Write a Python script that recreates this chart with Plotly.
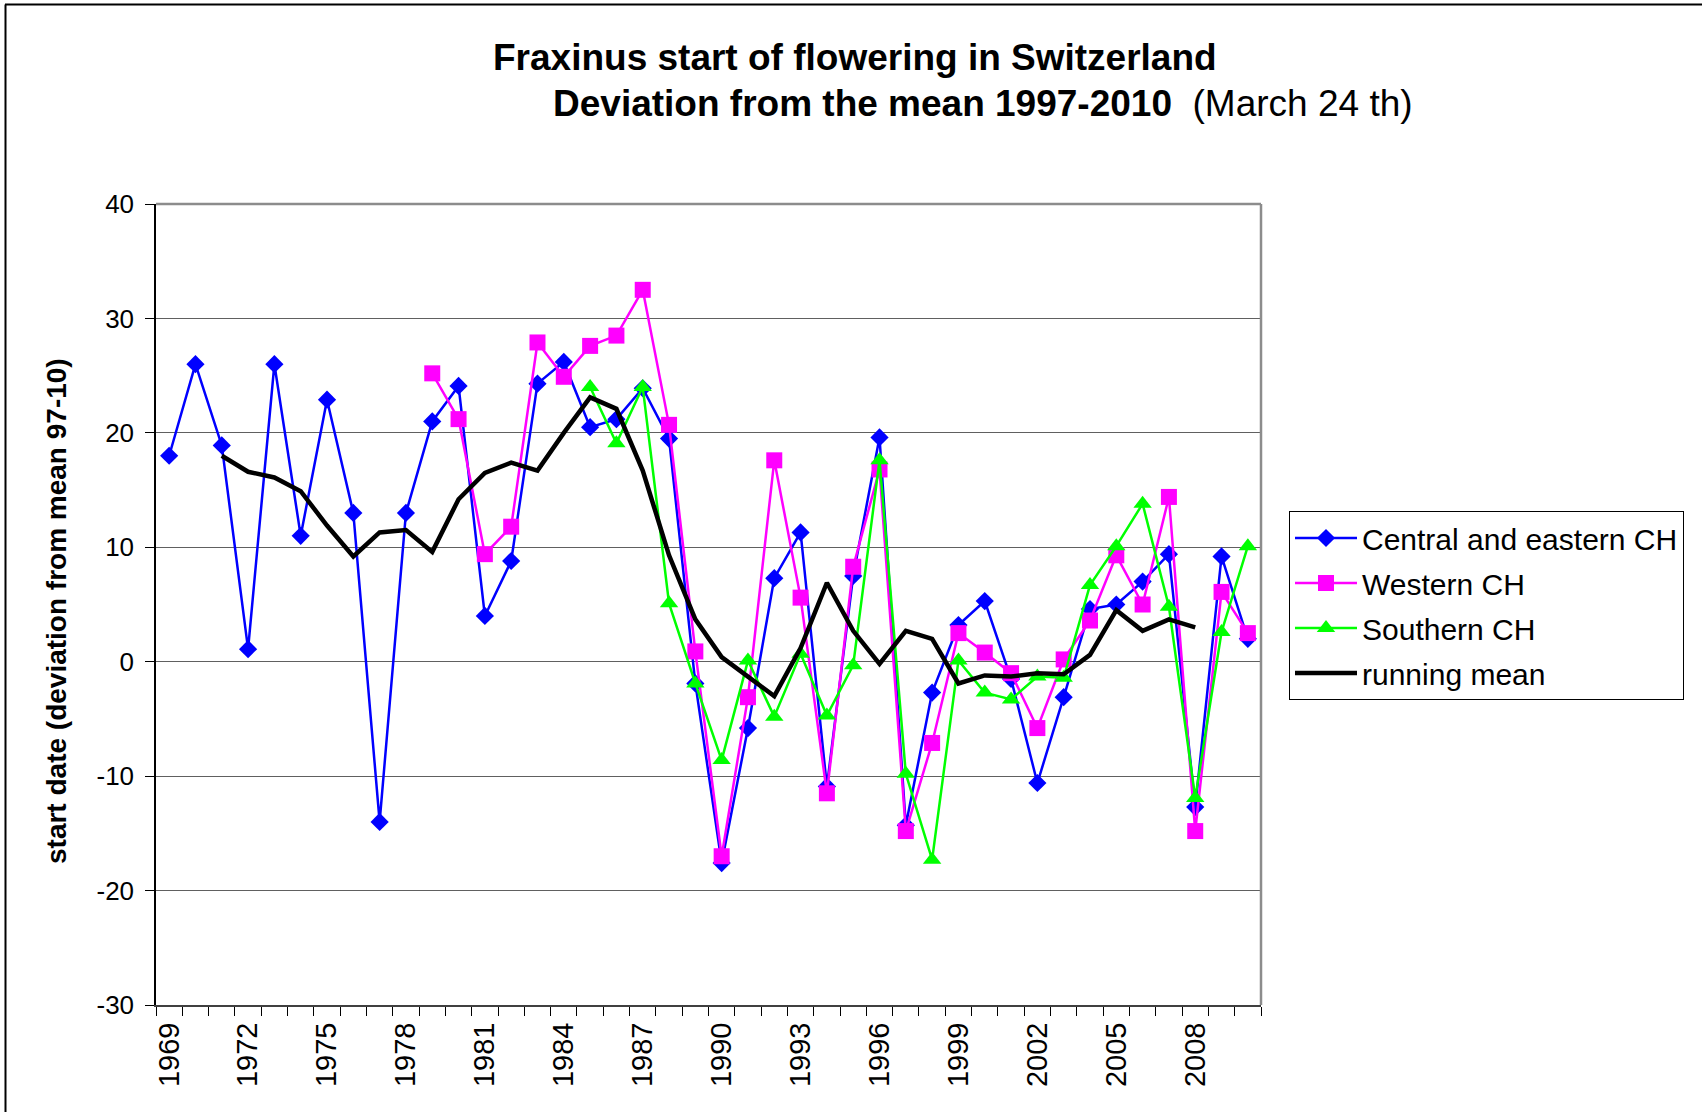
import plotly.graph_objects as go

# start of flowering, deviation from mean 1997-2010 (days)
years_central = list(range(1969, 2011))
central_east = [18, 26, 18.9, 1.1, 26, 11, 22.9, 13, -14, 13,
                21, 24.1, 4, 8.8, 24.3, 26.2, 20.5, 21.2, 23.9, 19.5,
                -1.9, -17.6, -5.8, 7.3, 11.3, -10.9, 7.5, 19.6, -14.3, -2.7,
                3.2, 5.3, -1.5, -10.6, -3.1, 4.6, 5.0, 7.0, 9.4, -12.7,
                9.2, 2.0]

years_western = list(range(1979, 2011))
western = [25.2, 21.2, 9.4, 11.8, 27.9, 24.9, 27.6, 28.5, 32.5, 20.7,
           0.9, -17.0, -3.1, 17.6, 5.6, -11.5, 8.3, 16.8, -14.8, -7.1,
           2.5, 0.8, -1.0, -5.8, 0.2, 3.6, 9.3, 5.0, 14.4, -14.8,
           6.1, 2.5]

years_southern = list(range(1985, 2011))
southern = [24.0, 19.1, 24.0, 5.1, -1.9, -8.6, 0.1, -4.8, 0.7, -4.7,
            -0.3, 17.6, -9.8, -17.3, 0.1, -2.7, -3.3, -1.3, -1.4, 6.7,
            10.1, 13.8, 4.8, -11.9, 2.6, 10.1]

years_mean = list(range(1971, 2009))
running_mean = [18.0, 16.6, 16.1, 14.9, 11.9, 9.2, 11.3, 11.5, 9.6, 14.2,
                16.5, 17.4, 16.7, 20.0, 23.1, 22.1, 16.7, 9.3, 3.7, 0.4,
                -1.3, -3.0, 1.2, 6.9, 2.7, -0.2, 2.7, 2.0, -1.9, -1.2,
                -1.3, -1.0, -1.1, 0.6, 4.5, 2.7, 3.7, 3.0]

label_years = list(range(1969, 2010, 3))
y_ticks = [-30, -20, -10, 0, 10, 20, 30, 40]

FONT = "Liberation Sans, Arial, sans-serif"

fig = go.Figure()
fig.add_trace(go.Scatter(x=years_central, y=central_east, name="Central and eastern CH",
                         mode="lines+markers", legendgroup="a",
                         line=dict(color="#0000FF", width=2.5),
                         marker=dict(symbol="diamond", size=14, color="#0000FF")))
fig.add_trace(go.Scatter(x=years_western, y=western, name="Western CH",
                         mode="lines+markers", legendgroup="b",
                         line=dict(color="#FF00FF", width=2.5),
                         marker=dict(symbol="square", size=16, color="#FF00FF")))
fig.add_trace(go.Scatter(x=years_southern, y=southern, name="Southern CH",
                         mode="lines+markers", legendgroup="c",
                         line=dict(color="#00FF00", width=2.5),
                         marker=dict(symbol="triangle-up", size=16, color="#00FF00")))
fig.add_trace(go.Scatter(x=years_mean, y=running_mean, name="running mean",
                         mode="lines", legendgroup="d",
                         line=dict(color="black", width=4.5)))

L, R, T, B = 156, 1261, 204, 1005
W, H = 1702, 1112


def px(x):
    return (x - L) / (R - L)


def py(y):
    return (B - y) / (B - T)


fig.update_layout(
    width=W, height=H,
    margin=dict(l=L, r=W - R, t=T, b=H - B),
    paper_bgcolor="white", plot_bgcolor="white",
    font=dict(family=FONT, color="black"),
    showlegend=True,
    legend=dict(x=px(1289), y=py(511), xanchor="left", yanchor="top",
                font=dict(size=30), bordercolor="black", borderwidth=1,
                tracegroupgap=3, bgcolor="white", itemwidth=62),
)

fig.update_xaxes(range=[1968.5, 2010.5], tickmode="array", tickvals=label_years,
                 ticktext=[str(v) for v in label_years], tickangle=-90,
                 ticks="outside", ticklen=0, tickfont=dict(size=29),
                 ticklabelstandoff=4,
                 showgrid=False, zeroline=False, showline=True,
                 linecolor="#404040", linewidth=2,
                 minor=dict(tickmode="array",
                            tickvals=[1968.5 + k for k in range(43)],
                            ticks="outside", ticklen=9, tickcolor="black",
                            tickwidth=1, showgrid=False))
fig.update_yaxes(range=[-30, 40], tickmode="array", tickvals=y_ticks,
                 ticktext=[str(v) for v in y_ticks],
                 ticks="outside", ticklen=9, tickcolor="black",
                 tickfont=dict(size=26), ticklabelstandoff=6,
                 showgrid=True, gridcolor="#606060", gridwidth=1,
                 zeroline=False, showline=True, linecolor="black", linewidth=1.5)

# grey frame on top and right of plot area
fig.add_shape(type="line", xref="paper", yref="paper", x0=0, x1=1, y0=1, y1=1,
              line=dict(color="#8c8c8c", width=2.5))
fig.add_shape(type="line", xref="paper", yref="paper", x0=1, x1=1, y0=0, y1=1,
              line=dict(color="#8c8c8c", width=2.5))
# outer chart border (top and left)
fig.add_shape(type="line", xref="paper", yref="paper", x0=px(5), x1=px(1702),
              y0=py(4.5), y1=py(4.5), line=dict(color="black", width=2))
fig.add_shape(type="line", xref="paper", yref="paper", x0=px(5.5), x1=px(5.5),
              y0=py(4.5), y1=py(1112), line=dict(color="black", width=2))

fig.add_annotation(xref="paper", yref="paper", x=px(855), y=py(57), showarrow=False,
                   text="<b>Fraxinus start of flowering in Switzerland</b>",
                   font=dict(size=37), xanchor="center", yanchor="middle")
fig.add_annotation(xref="paper", yref="paper", x=px(551), y=py(104), showarrow=False,
                   text="<b>Deviation from the mean 1997-2010</b>\u00a0\u00a0(March 24 th)",
                   font=dict(size=37), xanchor="left", yanchor="middle")
fig.add_annotation(xref="paper", yref="paper", x=px(56), y=py(611), showarrow=False,
                   text="<b>start date (deviation from mean 97-10)</b>", textangle=-90,
                   font=dict(size=28), xanchor="center", yanchor="middle")

fig.write_html("out.html", config={"displayModeBar": False},
               post_script="document.body.style.margin='0';")
